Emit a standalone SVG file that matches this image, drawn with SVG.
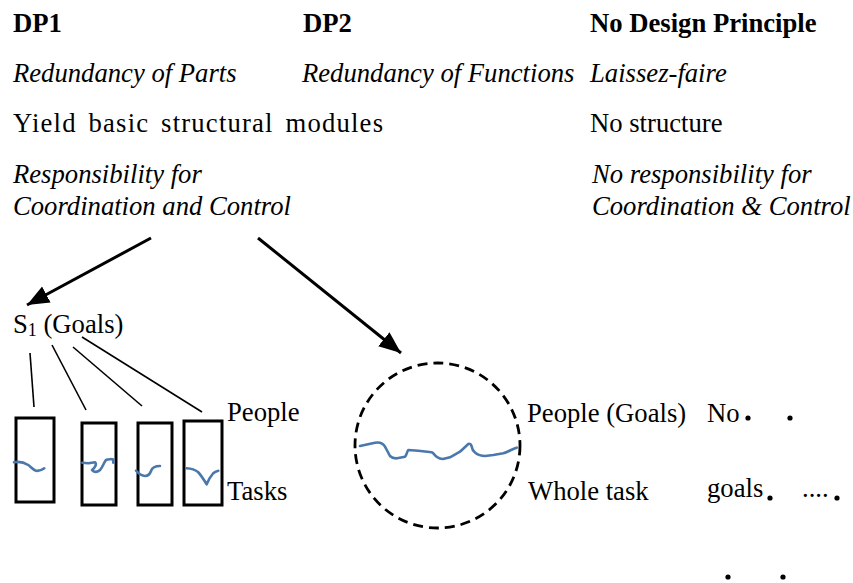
<svg xmlns="http://www.w3.org/2000/svg" width="853" height="583" viewBox="0 0 853 583" font-family="'Liberation Serif', 'Times New Roman', serif">
  <style>
    text { font-family: "Liberation Serif", "Times New Roman", serif; font-size: 26.67px; fill: #000; }
    .b { font-weight: bold; }
    .i { font-style: italic; }
    .conn { stroke: #000; stroke-width: 3; fill: none; }
    .thin { stroke: #000; stroke-width: 1.6; fill: none; }
    .box { stroke: #000; stroke-width: 3; fill: #fff; }
    .wave { stroke: #4a78ad; stroke-width: 2.6; fill: none; stroke-linecap: round; stroke-linejoin: round; }
    .dot { fill: #000; }
  </style>
  <defs>
    <marker id="arrow" markerUnits="userSpaceOnUse" markerWidth="24" markerHeight="20" refX="22" refY="9" orient="auto">
      <path d="M0,0 L22,9 L0,18 Z" fill="#000"/>
    </marker>
  </defs>
  <rect width="853" height="583" fill="#fff"/>

  <!-- column headings and principles -->
  <g id="header">
    <text class="b" x="13" y="32">DP1</text>
    <text class="b" x="303" y="32">DP2</text>
    <text class="b" x="590" y="32">No Design Principle</text>
    <text class="i" x="13" y="82">Redundancy of Parts</text>
    <text class="i" x="302" y="82">Redundancy of Functions</text>
    <text class="i" x="590" y="82">Laissez-faire</text>
    <text x="13" y="132" word-spacing="4" textLength="370" lengthAdjust="spacing">Yield basic structural modules</text>
    <text x="590" y="132">No structure</text>
  </g>

  <g id="responsibility">
    <text class="i" x="13" y="183">Responsibility for</text>
    <text class="i" x="13" y="215">Coordination and Control</text>
  </g>

  <g id="no-responsibility">
    <text class="i" x="592" y="183">No responsibility for</text>
    <text class="i" x="592" y="215">Coordination &amp; Control</text>
  </g>

  <!-- connectors -->
  <g id="connectors">
    <line class="conn" x1="151" y1="238" x2="27" y2="305" marker-end="url(#arrow)"/>
    <line class="conn" x1="258" y1="238" x2="401" y2="353" marker-end="url(#arrow)"/>
    <line class="thin" x1="30" y1="353" x2="34" y2="407"/>
    <line class="thin" x1="52" y1="345" x2="86" y2="410"/>
    <line class="thin" x1="73" y1="347" x2="142" y2="406"/>
    <line class="thin" x1="82" y1="337" x2="202" y2="412"/>
  </g>

  <!-- DP1: goal node and task modules -->
  <g id="s1-goals">
    <text x="13" y="333">S<tspan font-size="18" dy="3">1</tspan><tspan dy="-3"> (Goals)</tspan></text>
  </g>

  <g id="module-1">
    <rect class="box" x="16" y="418" width="38" height="84"/>
    <path class="wave" d="M14,462.3 C20,461 25,463 28.3,465 C31,467 33,470 36,470.8 C39,471.3 42,470 44.3,468.3"/>
  </g>
  <g id="module-2">
    <rect class="box" x="82" y="423" width="34" height="82"/>
    <path class="wave" d="M82.3,462.7 L88.3,463.3 L95,462.3 C97,464 95,468 92,470 C94,473 98,472 100,470 C103,467 104,462 106,460 C108,459 112,459 113.3,459.5 L113.3,462.7"/>
  </g>
  <g id="module-3">
    <rect class="box" x="138" y="423" width="34" height="82"/>
    <path class="wave" d="M136,470.7 C139,474 142,476 145,476 C148,476 150,474 151,471 C152,468 154,466 160,466"/>
  </g>
  <g id="module-4">
    <rect class="box" x="184" y="421" width="38" height="84"/>
    <path class="wave" d="M186.7,468.3 C190,468.5 194,469 198,472 C201,475 204,480 206.7,484.3 C208,481 210,477 213,473.5 C215,471.5 217,471 218.3,470.7"/>
  </g>
  <g id="dp1-labels">
    <text x="227" y="421">People</text>
    <text x="227" y="500">Tasks</text>
  </g>

  <!-- DP2: whole task group -->
  <g id="whole-task-group">
    <circle cx="437.5" cy="445.5" r="82.5" fill="none" stroke="#000" stroke-width="2.8" stroke-dasharray="10 6"/>
    <path class="wave" d="M360,446 L375,442.7 C379,442 383,443 385,446.7 L390,456 C392,458 394,458.5 397,458.3 L405,456.7 C407,455 407,451 408.3,450 L418.3,450.7 L431.7,452.3 C434,453 435,456 437,457 C439,458.5 441,459 443,459 L450,457.3 L460,451.7 L468.3,444 C470,443.5 471,444 471.5,446 C472,449 473,451 475,452.5 C478,455 481,456 485,456 L493.3,455 L503.3,453.3 C508,452 512,449 516.7,447.7"/>
  </g>
  <g id="dp2-labels">
    <text x="527" y="422">People (Goals)</text>
    <text x="528" y="500">Whole task</text>
  </g>

  <!-- no design principle: scattered individuals -->
  <g id="no-goals">
    <text x="707" y="422">No</text>
    <text x="707" y="497">goals</text>
    <text x="802" y="497">....</text>
    <circle class="dot" cx="748" cy="418" r="2.6"/>
    <circle class="dot" cx="790" cy="418" r="2.6"/>
    <circle class="dot" cx="770" cy="498" r="2.6"/>
    <circle class="dot" cx="837" cy="498" r="2.6"/>
    <circle class="dot" cx="728" cy="577" r="2.6"/>
    <circle class="dot" cx="783" cy="577" r="2.6"/>
  </g>
</svg>
